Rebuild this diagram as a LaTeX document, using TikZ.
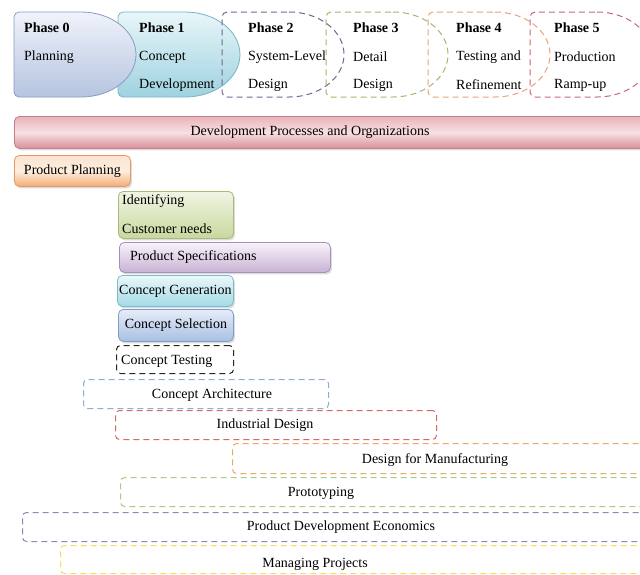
\documentclass[tikz,border=0pt]{standalone}
\usepackage{fontspec}
\setmainfont{Liberation Serif}
\usetikzlibrary{shadows}

% phase palette
\definecolor{phAtop}{HTML}{F0F3FA}
\definecolor{phAbot}{HTML}{B6C4E0}
\definecolor{phAline}{HTML}{8A9BC0}
\definecolor{phBtop}{HTML}{E8F6F9}
\definecolor{phBbot}{HTML}{9ED2DF}
\definecolor{phBline}{HTML}{78B4C4}
\definecolor{phC}{HTML}{6C6A90}
\definecolor{phD}{HTML}{A9B46C}
\definecolor{phE}{HTML}{EAA27A}
\definecolor{phF}{HTML}{C46878}
% activity palette
\definecolor{devtop}{HTML}{E9B3B9}
\definecolor{devmid}{HTML}{F7E0E3}
\definecolor{devbot}{HTML}{D98F98}
\definecolor{devline}{HTML}{C48089}
\definecolor{pptop}{HTML}{FCE4CF}
\definecolor{ppmid}{HTML}{FDEEDF}
\definecolor{ppbot}{HTML}{F4AC74}
\definecolor{ppline}{HTML}{E39A66}
\definecolor{idtop}{HTML}{F0F5E4}
\definecolor{idbot}{HTML}{C8D89E}
\definecolor{idline}{HTML}{A8BC7A}
\definecolor{pstop}{HTML}{F8F3FA}
\definecolor{psbot}{HTML}{C8B2D4}
\definecolor{psline}{HTML}{A890B8}
\definecolor{cgtop}{HTML}{EAF7FA}
\definecolor{cgbot}{HTML}{A4DAE6}
\definecolor{cgline}{HTML}{7CBCCC}
\definecolor{cstop}{HTML}{E6EDF9}
\definecolor{csbot}{HTML}{A8C0E2}
\definecolor{csline}{HTML}{809CC8}
\definecolor{dArch}{HTML}{8EAED0}
\definecolor{dInd}{HTML}{D26A6A}
\definecolor{dDfm}{HTML}{EBA868}
\definecolor{dProto}{HTML}{AECB86}
\definecolor{dEcon}{HTML}{8C88BC}
\definecolor{dManage}{HTML}{EEE060}

\tikzset{
  phaseshape/.pic={
    \path[pic actions] (67,0)
      arc[start angle=-90,end angle=90,x radius=55,y radius=42.5]
      -- (5,85) arc[start angle=90,end angle=180,radius=5]
      -- (0,5) arc[start angle=180,end angle=270,radius=5] -- cycle;
  },
  softshadow/.style={drop shadow={shadow xshift=1.5pt, shadow yshift=-2pt, fill=gray!60, opacity=0.45}},
  dashline/.style={dash pattern=on 6pt off 4pt, line width=1pt},
  filledphase/.style n args={3}{top color=#1, bottom color=#2, draw=#3, line width=0.8pt, softshadow},
  dashedphase/.style={draw=#1, dashline},
  phtitle/.style={anchor=west, inner sep=0pt, font=\fontsize{14}{16}\selectfont\bfseries},
  phtext/.style={anchor=west, inner sep=0pt},
  shadedbox/.style n args={3}{rounded corners=5pt, top color=#1, bottom color=#2, draw=#3,
    line width=0.8pt, anchor=north west, inner sep=0pt, softshadow},
  dashbox/.style={rounded corners=4pt, draw=#1, dashline, anchor=north west, inner sep=0pt},
  lbl/.style={inner sep=0pt},
}

\begin{document}
\begin{tikzpicture}[x=1pt,y=-1pt,font=\fontsize{14}{16}\selectfont]
\useasboundingbox (0,0) rectangle (640,574);
\clip (0,0) rectangle (640,574);
\fill[white] (0,0) rectangle (640,574);

% ---- phase strip ----
\pic[filledphase={phBtop}{phBbot}{phBline}] at (118,12) {phaseshape};
\pic[filledphase={phAtop}{phAbot}{phAline}] at (14,12) {phaseshape};
\pic[dashedphase=phC] at (222,12) {phaseshape};
\pic[dashedphase=phD] at (326,12) {phaseshape};
\pic[dashedphase=phE] at (428,12) {phaseshape};
\pic[dashedphase=phF] at (530,12) {phaseshape};

\node[phtitle] (p0t) at (24,28) {Phase 0};
\node[phtext]  (p0a) at (24,57) {Planning};
\node[phtitle] (p1t) at (139,28) {Phase 1};
\node[phtext]  (p1a) at (139,57) {Concept};
\node[phtext]  (p1b) at (139,85) {Development};
\node[phtitle] (p2t) at (248,28) {Phase 2};
\node[phtext]  (p2a) at (248,57) {System-Level};
\node[phtext]  (p2b) at (248,85) {Design};
\node[phtitle] (p3t) at (353,28) {Phase 3};
\node[phtext]  (p3a) at (353,57) {Detail};
\node[phtext]  (p3b) at (353,85) {Design};
\node[phtitle] (p4t) at (456,28) {Phase 4};
\node[phtext]  (p4a) at (456,57) {Testing and};
\node[phtext]  (p4b) at (456,85) {Refinement};
\node[phtitle] (p5t) at (554,28) {Phase 5};
\node[phtext]  (p5a) at (554,57) {Production};
\node[phtext]  (p5b) at (554,85) {Ramp-up};

% ---- shaded activities ----
\node[shadedbox={devtop}{devbot}{devline}, middle color=devmid, minimum width=640pt, minimum height=32pt] (dev) at (14,116) {};
\node[lbl] (devtxt) at (310,132) {Development Processes and Organizations};

\node[shadedbox={pptop}{ppbot}{ppline}, middle color=ppmid, minimum width=116pt, minimum height=31pt] (pp) at (14,155) {};
\node[lbl] (pptxt) at (pp.center) {Product Planning};

\node[shadedbox={idtop}{idbot}{idline}, minimum width=115pt, minimum height=47pt] (id) at (118,191) {};
\node[phtext] (idtxta) at (122,201) {Identifying};
\node[phtext] (idtxtb) at (122,229) {Customer needs};

\node[shadedbox={pstop}{psbot}{psline}, minimum width=211pt, minimum height=30pt] (ps) at (119,242) {};
\node[phtext] (pstxt) at (130,257) {Product Specifications};

\node[shadedbox={cgtop}{cgbot}{cgline}, minimum width=116pt, minimum height=31pt] (cg) at (117,275) {};
\node[lbl] (cgtxt) at (cg.center) {Concept Generation};

\node[shadedbox={cstop}{csbot}{csline}, minimum width=115pt, minimum height=32pt] (cs) at (118,309) {};
\node[lbl] (cstxt) at (cs.center) {Concept Selection};

% ---- dashed activities ----
\node[dashbox=black!85, minimum width=117pt, minimum height=28pt] (ct) at (116,345) {};
\node[phtext] (cttxt) at (121,361) {Concept Testing};

\node[dashbox=dArch, minimum width=245pt, minimum height=29pt] (ca) at (83,379) {};
\node[lbl] (catxt) at (212,395) {Concept Architecture};

\node[dashbox=dInd, minimum width=321pt, minimum height=29pt] (ind) at (115,410) {};
\node[lbl] (indtxt) at (265,425) {Industrial Design};

\node[dashbox=dDfm, minimum width=420pt, minimum height=30pt] (dfm) at (232,443) {};
\node[lbl] (dfmtxt) at (435,460) {Design for Manufacturing};

\node[dashbox=dProto, minimum width=540pt, minimum height=29pt] (proto) at (120,477) {};
\node[lbl] (prototxt) at (321,493) {Prototyping};

\node[dashbox=dEcon, minimum width=640pt, minimum height=29pt] (econ) at (22,512) {};
\node[lbl] (econtxt) at (341,527) {Product Development Economics};

\node[dashbox=dManage, minimum width=600pt, minimum height=28pt] (mp) at (60,545) {};
\node[lbl] (mptxt) at (315,564) {Managing Projects};
\end{tikzpicture}
\end{document}
